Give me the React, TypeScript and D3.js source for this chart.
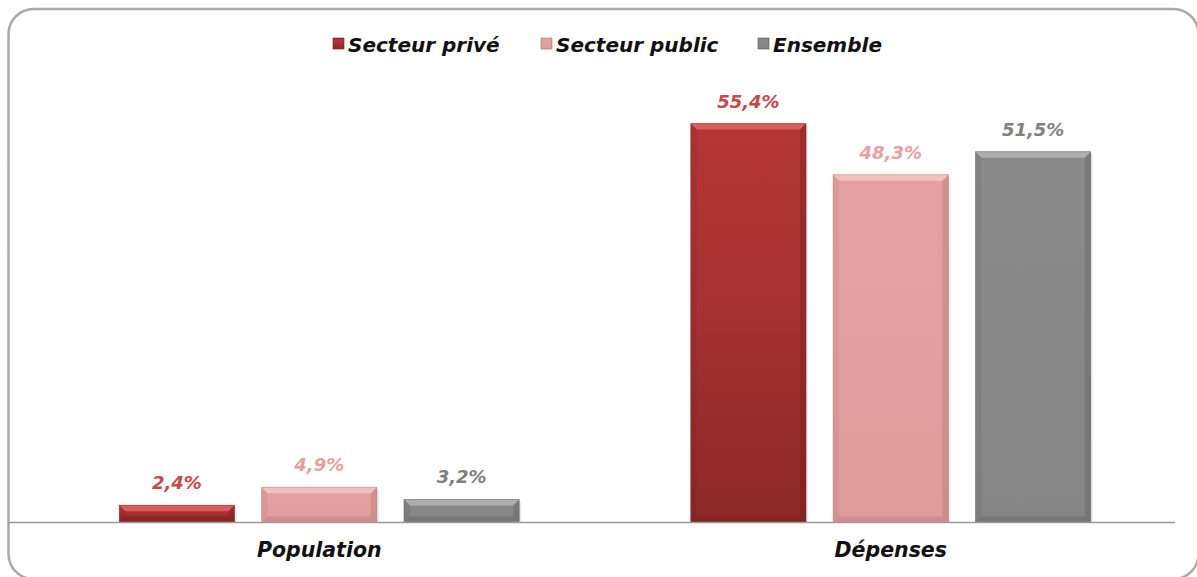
import React from "react";
import * as d3 from "d3";

const categories = ["Population", "Dépenses"];
const seriesNames = ["Secteur privé", "Secteur public", "Ensemble"];
const prive = [2.4, 55.4];
const publicS = [4.9, 48.3];
const ensemble = [3.2, 51.5];
const seriesValues = [prive, publicS, ensemble];

const W = 1197;
const H = 577;

const barColors = [
  { top: "#b53636", body: "#aa3232", bottom: "#8c2828", light: "#e26464", dark: "#6e1a1a" },
  { top: "#e5a1a1", body: "#e4a0a0", bottom: "#e09b9b", light: "#f6c4c4", dark: "#a86a6a" },
  { top: "#8a8a8a", body: "#888888", bottom: "#858585", light: "#b4b4b4", dark: "#555555" },
];
const labelColors = ["#c84848", "#e6a0a0", "#808080"];

export default function App() {
  const baseY = 522.5;
  const y = d3.scaleLinear().domain([0, 60]).range([baseY, baseY - 432]);
  const x0 = d3.scaleBand<string>().domain(categories).range([33.5, 1176.5]).paddingInner(0).paddingOuter(0);
  const groupW = 400;
  const x1 = d3
    .scaleBand<string>()
    .domain(seriesNames)
    .range([0, groupW])
    .paddingInner(27 / 142)
    .paddingOuter(0);

  const fontCat = "'DejaVu Sans', Verdana, sans-serif";
  const bev = 6;

  const legendX = [333, 541, 758];

  return (
    <svg
      width={W}
      height={H}
      style={{ position: "absolute", left: 0, top: 0, display: "block", background: "#fff" }}
    >
      <defs>
        {barColors.map((c, i) => (
          <linearGradient key={i} id={`g${i}`} x1="0" y1="0" x2="0" y2="1">
            <stop offset="0%" stopColor={c.top} />
            <stop offset="40%" stopColor={c.body} />
            <stop offset="100%" stopColor={c.bottom} />
          </linearGradient>
        ))}
      </defs>
      <rect x={8.5} y={9} width={1190} height={570} rx={25} ry={25} fill="#fff" stroke="#a9a9a9" strokeWidth={2.5} />

      {/* legend */}
      {seriesNames.map((s, i) => (
        <g key={s}>
          <rect x={legendX[i]} y={38} width={11} height={11} fill={`url(#g${i})`} stroke={barColors[i].dark} strokeWidth={0.6} />
          <text
            x={legendX[i] + 15}
            y={51.5}
            fontFamily={fontCat}
            fontWeight="bold"
            fontStyle="italic"
            fontSize={20}
            fill="#111"
          >
            {s}
          </text>
        </g>
      ))}

      {/* bars */}
      {categories.map((cat, ci) => {
        const gx = (x0(cat) as number) + x0.bandwidth() / 2 - groupW / 2;
        return (
          <g key={cat}>
            {seriesNames.map((s, si) => {
              const v = seriesValues[si][ci];
              const bx = gx + (x1(s) as number);
              const bw = x1.bandwidth();
              const by = y(v);
              const bh = baseY - by;
              const c = barColors[si];
              const b = Math.min(bev, bh / 2);
              return (
                <g key={s}>
                  <rect x={bx + 2} y={by + 2} width={bw} height={bh - 2} fill="#000" opacity={0.08} />
                  <rect x={bx} y={by} width={bw} height={bh} fill={`url(#g${si})`} />
                  <polygon
                    points={`${bx},${by} ${bx + bw},${by} ${bx + bw - b},${by + b} ${bx + b},${by + b}`}
                    fill={c.light}
                    opacity={0.85}
                  />
                  <polygon
                    points={`${bx},${by} ${bx + b},${by + b} ${bx + b},${baseY - b} ${bx},${baseY}`}
                    fill={c.dark}
                    opacity={0.15}
                  />
                  <polygon
                    points={`${bx + bw},${by} ${bx + bw - b},${by + b} ${bx + bw - b},${baseY - b} ${bx + bw},${baseY}`}
                    fill={c.dark}
                    opacity={0.3}
                  />
                  <polygon
                    points={`${bx},${baseY} ${bx + b},${baseY - b} ${bx + bw - b},${baseY - b} ${bx + bw},${baseY}`}
                    fill={c.dark}
                    opacity={0.3}
                  />
                  <rect x={bx} y={by} width={bw} height={bh} fill="none" stroke={c.dark} strokeWidth={0.8} strokeOpacity={0.5} />
                  <text
                    x={bx + bw / 2}
                    y={by - 16}
                    textAnchor="middle"
                    fontFamily={fontCat}
                    fontWeight="bold"
                    fontStyle="italic"
                    fontSize={18}
                    fill={labelColors[si]}
                  >
                    {d3.format(".1f")(v).replace(".", ",") + "%"}
                  </text>
                </g>
              );
            })}
            <text
              x={(x0(cat) as number) + x0.bandwidth() / 2}
              y={557}
              textAnchor="middle"
              fontFamily={fontCat}
              fontWeight="bold"
              fontStyle="italic"
              fontSize={20.5}
              fill="#111"
            >
              {cat}
            </text>
          </g>
        );
      })}

      {/* baseline */}
      <line x1={8} x2={1175} y1={baseY} y2={baseY} stroke="#9a9a9a" strokeWidth={1.5} />
    </svg>
  );
}
